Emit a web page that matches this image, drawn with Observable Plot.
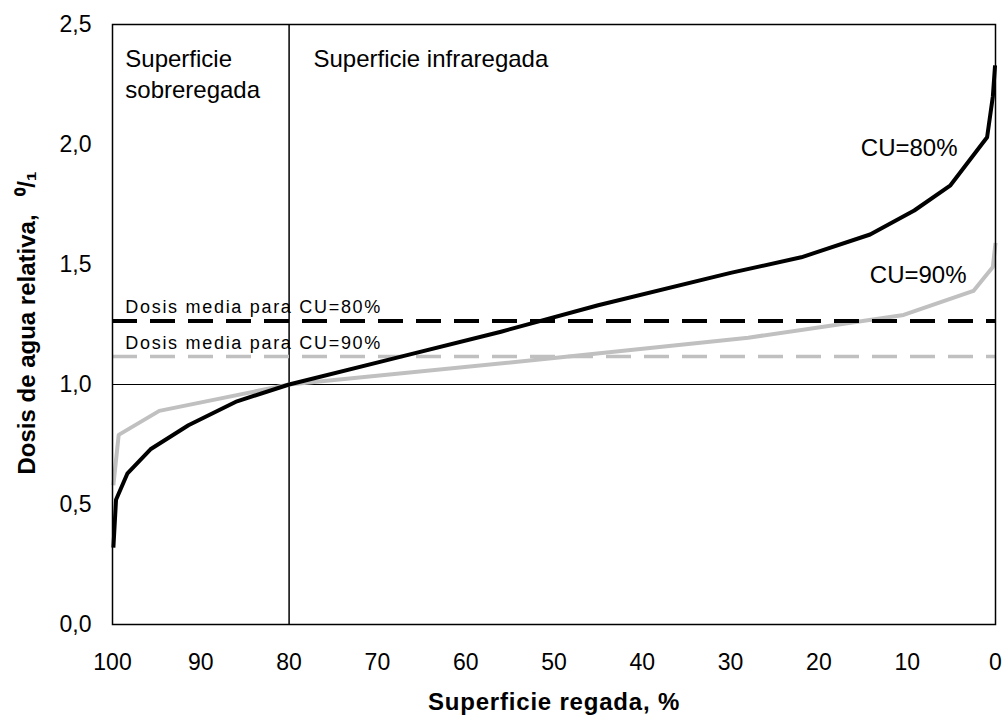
<!DOCTYPE html>
<html>
<head>
<meta charset="utf-8">
<script src="https://cdn.jsdelivr.net/npm/d3@7"></script>
<script src="https://cdn.jsdelivr.net/npm/@observablehq/plot@0.6"></script>
<style>
  html, body { margin: 0; padding: 0; background: white; }
  #chart { width: 1002px; height: 715px; }
</style>
</head>
<body>
<div id="chart"></div>
<script>
// Tick labels
const xTicks = [0, 10, 20, 30, 40, 50, 60, 70, 80, 90, 100];
const yTicks = [0, 0.5, 1.0, 1.5, 2.0, 2.5];

// CU = 80 % curve (superficie regada %, dosis relativa)
const cu80X = [99.9, 99.6, 98.3, 95.7, 91.4, 85.9, 80, 68, 56, 45, 30, 22, 14.2, 9.2, 5.1, 0.95, 0.3, 0.05];
const cu80Y = [0.32, 0.52, 0.63, 0.73, 0.83, 0.93, 1.0, 1.11, 1.22, 1.33, 1.465, 1.53, 1.625, 1.725, 1.83, 2.03, 2.2, 2.33];

// CU = 90 % curve
const cu90X = [99.9, 99.3, 94.7, 80, 50, 28, 10.4, 2.5, 0.3, 0.0];
const cu90Y = [0.58, 0.79, 0.89, 1.0, 1.11, 1.195, 1.29, 1.39, 1.49, 1.59];

// Mean doses
const meanCU80 = 1.265;
const meanCU90 = 1.117;
const refDose = 1.0;
const limitX = 80;

const cu80 = cu80X.map((x, i) => ({x, y: cu80Y[i]}));
const cu90 = cu90X.map((x, i) => ({x, y: cu90Y[i]}));

const fmt = d => d.toFixed(1).replace(".", ",");
const dash = "25,13";

const chart = Plot.plot({
  width: 1002,
  height: 715,
  marginLeft: 112,
  marginRight: 7,
  marginTop: 24,
  marginBottom: 91,
  x: {domain: [100, 0]},
  y: {domain: [0, 2.5]},
  style: {fontFamily: "'Liberation Sans', Arial, sans-serif", background: "white", color: "black"},
  marks: [
    Plot.axisX({ticks: xTicks, tickSize: 0, tickPadding: 29, fontSize: 23, label: null}),
    Plot.axisY({ticks: yTicks, tickSize: 0, tickPadding: 21, fontSize: 23, label: null, tickFormat: fmt}),
    Plot.ruleY([refDose], {stroke: "black", strokeWidth: 1}),
    Plot.ruleX([limitX], {stroke: "black", strokeWidth: 1.5}),
    Plot.ruleY([meanCU90], {stroke: "#c0c0c0", strokeWidth: 3.5, strokeDasharray: dash}),
    Plot.line(cu90, {x: "x", y: "y", stroke: "#c0c0c0", strokeWidth: 4, strokeLinecap: "butt"}),
    Plot.line(cu80, {x: "x", y: "y", stroke: "black", strokeWidth: 4, strokeLinecap: "butt"}),
    Plot.ruleY([meanCU80], {stroke: "black", strokeWidth: 4, strokeDasharray: dash}),
    Plot.frame({stroke: "black", strokeWidth: 1.5}),
    // annotations
    Plot.text(["Superficie\nsobreregada"], {x: 98.55, y: 2.192, textAnchor: "start", lineAnchor: "bottom", lineHeight: 1.33, fontSize: 24}),
    Plot.text(["Superficie infraregada"], {x: 77.24, y: 2.325, textAnchor: "start", lineAnchor: "bottom", fontSize: 24}),
    Plot.text(["CU=80%"], {x: 4.3, y: 1.954, textAnchor: "end", lineAnchor: "bottom", fontSize: 24}),
    Plot.text(["CU=90%"], {x: 3.28, y: 1.425, textAnchor: "end", lineAnchor: "bottom", fontSize: 24}),
    Plot.text(["Dosis media para CU=80%"], {x: 98.55, y: 1.30, textAnchor: "start", lineAnchor: "bottom", fontSize: 18}),
    Plot.text(["Dosis media para CU=90%"], {x: 98.55, y: 1.15, textAnchor: "start", lineAnchor: "bottom", fontSize: 18}),
    // axis titles
    Plot.text(["Superficie regada, %"], {frameAnchor: "bottom", dy: 85, textAnchor: "middle", lineAnchor: "bottom", fontWeight: "bold", fontSize: 24}),
    Plot.text(["Dosis de agua relativa,"], {frameAnchor: "left", dx: -85, dy: 20, rotate: -90, textAnchor: "middle", lineAnchor: "middle", fontWeight: "bold", fontSize: 24}),
    Plot.text(["⁰/₁"], {frameAnchor: "left", dx: -85, dy: -141, rotate: -90, textAnchor: "middle", lineAnchor: "middle", fontWeight: "bold", fontSize: 24})
  ]
});

// letter spacing tweaks
chart.querySelectorAll("text").forEach(t => {
  const s = t.textContent;
  if (s.startsWith("Dosis media")) t.style.letterSpacing = "1.7px";
  if (s === "Superficie regada, %") t.style.letterSpacing = "0.8px";
});

document.getElementById("chart").appendChild(chart);
</script>
</body>
</html>
